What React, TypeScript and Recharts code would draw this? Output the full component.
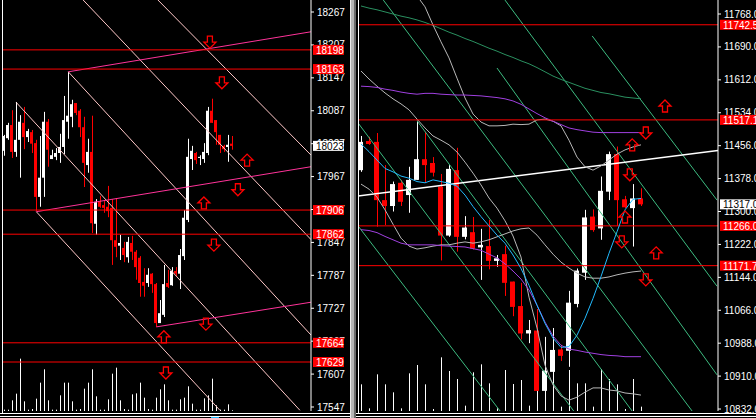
import React from "react";
import {
  ComposedChart,
  Bar,
  Line,
  XAxis,
  YAxis,
  ReferenceLine,
  ReferenceDot,
} from "recharts";

// ---------- left panel (index futures, 58 sessions) ----------
const leftOpen = [
  18014, 18037, 18061, 18012, 18034, 18065, 18039, 18048, 18028, 17930,
  17965, 18067, 17999, 18003, 18010, 18021, 18067, 18076, 18101, 18087,
  18057, 17988, 18012, 17881, 17921, 17915, 17912, 17910, 17851, 17841,
  17837, 17820, 17846, 17830, 17819, 17775, 17773, 17790, 17771, 17700,
  17715, 17773, 17769, 17795, 17790, 17822, 17888, 17999, 18010, 18001,
  17999, 18010, 18087, 18070, 18043, 18023, 18021, 18027,
];
const leftHigh = [
  18043, 18065, 18088, 18103, 18079, 18094, 18054, 18052, 18034, 18041,
  18085, 18072, 18016, 18019, 18045, 18114, 18158, 18107, 18101, 18090,
  18076, 18036, 18078, 17926, 17932, 17924, 17950, 17926, 17928, 17861,
  17848, 17857, 17859, 17833, 17822, 17800, 17800, 17791, 17773, 17742,
  17806, 17797, 17802, 17802, 17835, 17906, 18036, 18023, 18012, 18006,
  18028, 18094, 18109, 18070, 18043, 18025, 18043, 18041,
];
const leftLow = [
  18005, 18034, 18001, 18003, 17965, 18017, 18030, 18010, 17904, 17912,
  17930, 17985, 17999, 17997, 17992, 18008, 18036, 18057, 18079, 18039,
  17948, 17974, 17864, 17861, 17910, 17901, 17893, 17806, 17820, 17815,
  17811, 17810, 17815, 17779, 17748, 17748, 17766, 17755, 17693, 17700,
  17711, 17764, 17768, 17786, 17762, 17815, 17884, 17979, 17990, 17988,
  17992, 18006, 18065, 18025, 18010, 18012, 17994, 18016,
];
const leftClose = [
  18041, 18061, 18012, 18034, 18067, 18039, 18050, 18027, 17930, 17965,
  18067, 18016, 18006, 18010, 18021, 18070, 18078, 18099, 18083, 18057,
  17992, 18012, 17882, 17921, 17912, 17910, 17904, 17851, 17839, 17846,
  17824, 17848, 17830, 17802, 17773, 17768, 17788, 17771, 17700, 17718,
  17771, 17766, 17795, 17790, 17824, 17892, 18003, 18014, 17997, 18003,
  18012, 18087, 18065, 18048, 18025, 18017, 18025, 18023,
];
const leftVol = [
  40, 40, 320, 520, 1570, 290, 40, 60, 370, 850,
  1250, 320, 40, 40, 470, 850, 850, 290, 40, 60,
  670, 850, 1250, 440, 40, 40, 350, 1120, 1300, 320,
  60, 40, 500, 530, 850, 400, 60, 40, 400, 650,
  800, 320, 40, 40, 350, 400, 740, 220, 40, 40,
  380, 470, 970, 170, 40, 40, 200, 20,
];
const leftTicks = [
  17547, 17607, 17667, 17727, 17787, 17847, 17907, 17967, 18027, 18087,
  18147, 18207, 18267,
];
const leftLevels = [18198, 18163, 17906, 17862, 17664, 17629];
const leftLast = 18023;
// pale parallel lines and magenta channel lines: [x1, y1, x2, y2]
const leftParallels = [
  [3, 18102, 73.9, 17541],
  [16, 18158, 76.7, 17678],
  [19.7, 18289, 76.7, 17852],
  [38.4, 18289, 76.7, 18006],
  [8, 17903, 53.9, 17541],
];
const leftChannel = [
  [16, 18158, 76.7, 18231],
  [8, 17903, 76.7, 17985],
  [38, 17693, 76.7, 17738],
];
const leftArrows = [
  { x: 51.4, y: 18212, up: false },
  { x: 54.4, y: 18138, up: false },
  { x: 60.7, y: 17997, up: true },
  { x: 58.4, y: 17943, up: false },
  { x: 49.9, y: 17919, up: true },
  { x: 52.4, y: 17842, up: false },
  { x: 50.4, y: 17698, up: false },
  { x: 39.9, y: 17675, up: true },
  { x: 40.4, y: 17609, up: false },
];

// ---------- right panel (36 sessions) ----------
const rightOpen = [
  11398, 11467, 11465, 11327, 11313, 11368, 11339, 11375, 11424, 11415,
  11359, 11243, 11398, 11240, 11251, 11215, 11218, 11183, 11199, 11134,
  11076, 11011, 11018, 10875, 10920, 10973, 10970, 11081, 11155, 11288,
  11260, 11347, 11436, 11329, 11308, 11331,
];
const rightHigh = [
  11479, 11477, 11486, 11410, 11371, 11375, 11406, 11515, 11489, 11429,
  11389, 11410, 11451, 11289, 11287, 11259, 11280, 11197, 11219, 11134,
  11131, 11043, 11069, 11003, 11024, 10984, 11112, 11165, 11304, 11305,
  11383, 11442, 11454, 11337, 11365, 11355,
];
const rightLow = [
  11394, 11458, 11264, 11268, 11300, 11313, 11297, 11375, 11368, 11383,
  11184, 11240, 11205, 11234, 11210, 11138, 11163, 11169, 11100, 11052,
  10997, 10988, 10875, 10875, 10915, 10946, 10932, 11073, 11138, 11252,
  11233, 11327, 11266, 11308, 11217, 11313,
];
const rightClose = [
  11465, 11460, 11327, 11313, 11365, 11323, 11375, 11424, 11410, 11392,
  11243, 11401, 11240, 11262, 11212, 11221, 11183, 11189, 11131, 11074,
  11011, 11019, 10875, 10923, 10972, 10958, 11084, 11160, 11286, 11256,
  11349, 11436, 11327, 11310, 11331, 11317,
];
const rightVol = [
  800, 80, 1100, 800, 560, 80, 1130, 1380, 800, 60,
  1610, 1200, 960, 160, 1160, 1400, 830, 80, 1230, 810,
  930, 160, 1200, 1200, 1400, 130, 1230, 830, 830, 130,
  1260, 960, 800, 60, 960, 130,
];
const rightMa5 = [
  11460, 11442, 11422, 11402, 11394, 11384, 11379, 11371, 11368, 11375,
  11371, 11367, 11360, 11339, 11312, 11288, 11266, 11244, 11225, 11197,
  11165, 11125, 11078, 11035, 11000, 10978, 10980, 11007, 11047, 11094,
  11146, 11201, 11252, 11304, 11329, 11331,
];
const rightMa60 = [
  11787, 11782, 11778, 11773, 11768, 11763, 11759, 11754, 11748, 11741,
  11733, 11725, 11718, 11710, 11703, 11695, 11687, 11680, 11672, 11665,
  11657, 11650, 11641, 11631, 11621, 11613, 11606, 11599, 11592, 11587,
  11582, 11579, 11575, 11571, 11569, 11567,
];
const rightEnvUp = [
  11597, 11596, 11594, 11590, 11587, 11583, 11580, 11578, 11580, 11580,
  11578, 11577, 11576, 11576, 11575, 11574, 11572, 11570, 11567, 11562,
  11554, 11543, 11532, 11522, 11514, 11506, 11498, 11494, 11491, 11488,
  11487, 11487, 11487, 11487, 11487, 11487,
];
const rightEnvDn = [
  11257, 11255, 11250, 11241, 11233, 11225, 11221, 11221, 11221, 11221,
  11219, 11218, 11217, 11216, 11212, 11208, 11199, 11190, 11176, 11159,
  11140, 11114, 11078, 11038, 11005, 10983, 10974, 10971, 10967, 10964,
  10961, 10959, 10958, 10956, 10956, 10956,
];
const rightBandUp = [
  11990, 11965, 11940, 11915, 11890, 11868, 11837, 11811, 11785, 11742,
  11702, 11664, 11616, 11569, 11531, 11512, 11503, 11503, 11504, 11507,
  11506, 11507, 11517, 11519, 11514, 11503, 11469, 11429, 11406, 11398,
  11408, 11422, 11436, 11446, 11453, 11458,
];
const rightBandMid = [
  11365, 11353, 11334, 11304, 11270, 11237, 11218, 11211, 11214, 11218,
  11221, 11221, 11225, 11228, 11225, 11228, 11233, 11240, 11247, 11254,
  11259, 11261, 11244, 11221, 11199, 11180, 11166, 11154, 11145, 11142,
  11142, 11145, 11150, 11154, 11157, 11159,
];
const rightLagging = [
  11633, 11614, 11597, 11581, 11567, 11555, 11541, 11519, 11498, 11479,
  11469, 11458, 11441, 11417, 11391, 11363, 11332, 11308, 11278, 11242,
  11192, 11097, 11024, 10936, 10889, 10863, 10853, 10860, 10872, 10882,
  10882, 10877, 10875, 10870, 10868, 10865,
];
const rightTicks = [
  10832, 10910, 10988, 11066, 11144, 11222, 11300, 11378, 11456, 11534,
  11612, 11690, 11768,
];
const rightLevels = [11742.5, 11517.1, 11266.0, 11171.7];
const rightLast = 11317.0;
const rightTrend = [-0.375, 11336.7, 44.625, 11444.6];
const rightFan = [
  [2.79, 11801, 41.4, 10827],
  [18, 11801, 44.5, 11123],
  [17, 11640, 44.5, 10913],
  [28.9, 11716, 44.5, 11327],
  [-0.375, 11510, 26.6, 10827],
  [-0.375, 11266, 17.4, 10827],
  [7, 11515, 33.9, 10827],
];
const rightArrows = [
  { x: 38, y: 11550, up: true },
  { x: 35.6, y: 11486, up: false },
  { x: 33.9, y: 11458, up: true },
  { x: 33.6, y: 11387, up: false },
  { x: 33, y: 11287, up: true },
  { x: 32.6, y: 11228, up: false },
  { x: 36.9, y: 11202, up: true },
  { x: 35.6, y: 11138, up: false },
];

const leftRows = leftOpen.map((o, i) => ({
  i,
  o,
  h: leftHigh[i],
  l: leftLow[i],
  c: leftClose[i],
  v: leftVol[i],
  range: [leftLow[i], leftHigh[i]],
}));

const rightRows = rightOpen.map((o, i) => ({
  i,
  o,
  h: rightHigh[i],
  l: rightLow[i],
  c: rightClose[i],
  v: rightVol[i],
  range: [rightLow[i], rightHigh[i]],
  ma5: rightMa5[i],
  ma60: rightMa60[i],
  envUp: rightEnvUp[i],
  envDn: rightEnvDn[i],
  bandUp: rightBandUp[i],
  bandMid: rightBandMid[i],
  lag: rightLagging[i],
}));

const FONT = "'Liberation Sans', Arial, sans-serif";
const H = 418;
const MARGIN_BOTTOM = 7;
const VOL_MAX = 12330;

// candle drawn from the [low, high] bar the library positions for us
const Candle = (props: any) => {
  const { x, y, width, height, payload } = props;
  if (payload == null) return null;
  const top0 = Math.min(y, y + height);
  const span = Math.abs(height);
  const k = span / (payload.h - payload.l || 1);
  const bodyTop = top0 + (payload.h - Math.max(payload.o, payload.c)) * k;
  const bodyBot = top0 + (payload.h - Math.min(payload.o, payload.c)) * k;
  const color = payload.c >= payload.o ? "#ffffff" : "#ff0000";
  const cx = Math.round(x + width / 2) + 0.5;
  const left = Math.round(x + width / 2 - width / 2);
  return (
    <g>
      <line x1={cx} x2={cx} y1={top0} y2={top0 + span} stroke={color} strokeWidth={1} />
      <rect
        x={left}
        y={bodyTop}
        width={width}
        height={Math.max(1, bodyBot - bodyTop)}
        fill={color}
      />
    </g>
  );
};

const VolBar = (props: any) => {
  const { x, y, width, height } = props;
  const cx = Math.round(x + width / 2) + 0.5;
  const top0 = Math.min(y, y + height);
  return (
    <line x1={cx} x2={cx} y1={top0} y2={top0 + Math.abs(height)} stroke="#ffffff" strokeWidth={1} />
  );
};

const Arrow = ({ cx, cy, up }: { cx: number; cy: number; up: boolean }) => {
  const s = up ? 1 : -1;
  const pts = [
    [0, -6],
    [6, 0],
    [2.5, 0],
    [2.5, 6],
    [-2.5, 6],
    [-2.5, 0],
    [-6, 0],
  ]
    .map(([dx, dy]) => `${cx + dx},${cy + s * dy}`)
    .join(" ");
  return <polygon points={pts} fill="none" stroke="#ff0000" strokeWidth={1.3} />;
};

const priceTag = (text: string, bg: string, fg: string, w: number) => (p: any) => {
  const vb = p.viewBox || {};
  const x = (vb.x ?? 0) + (vb.width ?? 0) + 2;
  const y = vb.y ?? 0;
  return (
    <g>
      <rect x={x} y={y - 5} width={w} height={10} fill={bg} />
      <text x={x + 3} y={y + 4} fill={fg} fontSize={10} fontFamily={FONT}>
        {text}
      </text>
    </g>
  );
};

const axisTick = { fill: "#ffffff", fontSize: 10, fontFamily: FONT };

// third layer on top of each panel: only the price tags, so they cover the tick labels
function TagLayer(props: {
  w: number;
  axisW: number;
  left: number;
  domX: [number, number];
  domY: [number, number];
  rows: any[];
  levels: number[];
  last: number;
  fmt: (v: number) => string;
  tagW: number;
}) {
  const { w, axisW, left, domX, domY, rows, levels, last, fmt, tagW } = props;
  return (
    <div style={{ position: "absolute", left: 0, top: 0 }}>
      <ComposedChart
        width={w}
        height={H}
        data={rows}
        margin={{ top: 0, right: axisW, bottom: MARGIN_BOTTOM, left }}
      >
        <XAxis type="number" dataKey="i" domain={domX} allowDataOverflow hide />
        <YAxis yAxisId="p" domain={domY} allowDataOverflow hide />
        {levels.map((v) => (
          <ReferenceLine
            key={`tag-${v}`}
            yAxisId="p"
            y={v}
            stroke="none"
            label={priceTag(fmt(v), "#ff0000", "#ffffff", tagW)}
          />
        ))}
        <ReferenceLine
          yAxisId="p"
          y={last}
          stroke="none"
          label={priceTag(fmt(last), "#ffffff", "#000000", tagW)}
        />
      </ComposedChart>
    </div>
  );
}

function LeftPanel() {
  const w = 352;
  const axisW = 41;
  const domX: [number, number] = [-0.325, 76.675];
  const domY: [number, number] = [17539.7, 18288.9];
  return (
    <div style={{ position: "absolute", left: 0, top: 0, width: w, height: H }}>
      <div style={{ position: "absolute", left: 0, top: 0 }}>
        <ComposedChart
          width={w}
          height={H}
          data={leftRows}
          margin={{ top: 0, right: axisW, bottom: MARGIN_BOTTOM, left: 3 }}
        >
          <XAxis type="number" dataKey="i" domain={domX} allowDataOverflow hide />
          <YAxis yAxisId="v" domain={[0, VOL_MAX]} allowDataOverflow hide />
          <Bar yAxisId="v" dataKey="v" barSize={1} shape={VolBar} isAnimationActive={false} />
        </ComposedChart>
      </div>
      <div style={{ position: "absolute", left: 0, top: 0 }}>
        <ComposedChart
          width={w}
          height={H}
          data={leftRows}
          margin={{ top: 0, right: 0, bottom: MARGIN_BOTTOM, left: 3 }}
        >
          <XAxis type="number" dataKey="i" domain={domX} allowDataOverflow hide />
          <YAxis
            yAxisId="p"
            orientation="right"
            width={axisW}
            domain={domY}
            allowDataOverflow
            ticks={leftTicks}
            interval={0}
            tick={axisTick}
            tickSize={3}
            tickMargin={3}
            tickLine={{ stroke: "#ffffff" }}
            axisLine={{ stroke: "#ffffff" }}
          />
          {leftParallels.map(([x1, y1, x2, y2], k) => (
            <ReferenceLine
              key={`par-${k}`}
              yAxisId="p"
              segment={[{ x: x1, y: y1 }, { x: x2, y: y2 }]}
              stroke="#ffc8c8"
              strokeWidth={1}
              ifOverflow="hidden"
            />
          ))}
          {leftChannel.map(([x1, y1, x2, y2], k) => (
            <ReferenceLine
              key={`ch-${k}`}
              yAxisId="p"
              segment={[{ x: x1, y: y1 }, { x: x2, y: y2 }]}
              stroke="#ff3399"
              strokeWidth={1}
              ifOverflow="hidden"
            />
          ))}
          {leftLevels.map((v) => (
            <ReferenceLine key={`lv-${v}`} yAxisId="p" y={v} stroke="#ff0000" strokeWidth={1} />
          ))}
          <Bar
            yAxisId="p"
            dataKey="range"
            barSize={3}
            shape={Candle}
            isAnimationActive={false}
          />
          {leftArrows.map((a, k) => (
            <ReferenceDot
              key={`la-${k}`}
              yAxisId="p"
              x={a.x}
              y={a.y}
              r={6}
              shape={(p: any) => <Arrow cx={p.cx} cy={p.cy} up={a.up} />}
            />
          ))}
        </ComposedChart>
      </div>
      <TagLayer
        w={w}
        axisW={axisW}
        left={3}
        domX={domX}
        domY={domY}
        rows={leftRows}
        levels={leftLevels}
        last={leftLast}
        fmt={(v) => String(v)}
        tagW={31}
      />
    </div>
  );
}

function RightPanel() {
  const w = 400;
  const axisW = 38;
  const domX: [number, number] = [-0.375, 44.625];
  const domY: [number, number] = [10827.3, 11801.2];
  const line = (key: string, color: string) => (
    <Line
      yAxisId="p"
      dataKey={key}
      stroke={color}
      strokeWidth={1}
      dot={false}
      activeDot={false}
      isAnimationActive={false}
    />
  );
  return (
    <div style={{ position: "absolute", left: 356, top: 0, width: w, height: H }}>
      <div style={{ position: "absolute", left: 0, top: 0 }}>
        <ComposedChart
          width={w}
          height={H}
          data={rightRows}
          margin={{ top: 0, right: axisW, bottom: MARGIN_BOTTOM, left: 2 }}
        >
          <XAxis type="number" dataKey="i" domain={domX} allowDataOverflow hide />
          <YAxis yAxisId="v" domain={[0, VOL_MAX]} allowDataOverflow hide />
          <Bar yAxisId="v" dataKey="v" barSize={1} shape={VolBar} isAnimationActive={false} />
        </ComposedChart>
      </div>
      <div style={{ position: "absolute", left: 0, top: 0 }}>
        <ComposedChart
          width={w}
          height={H}
          data={rightRows}
          margin={{ top: 0, right: 0, bottom: MARGIN_BOTTOM, left: 2 }}
        >
          <XAxis type="number" dataKey="i" domain={domX} allowDataOverflow hide />
          <YAxis
            yAxisId="p"
            orientation="right"
            width={axisW}
            domain={domY}
            allowDataOverflow
            ticks={rightTicks}
            interval={0}
            tick={axisTick}
            tickSize={3}
            tickMargin={3}
            tickLine={{ stroke: "#ffffff" }}
            axisLine={{ stroke: "#ffffff" }}
            tickFormatter={(v: number) => v.toFixed(1)}
          />
          {rightFan.map(([x1, y1, x2, y2], k) => (
            <ReferenceLine
              key={`fan-${k}`}
              yAxisId="p"
              segment={[{ x: x1, y: y1 }, { x: x2, y: y2 }]}
              stroke="#3dbb80"
              strokeWidth={1}
              ifOverflow="hidden"
            />
          ))}
          <ReferenceLine
            yAxisId="p"
            segment={[
              { x: rightTrend[0], y: rightTrend[1] },
              { x: rightTrend[2], y: rightTrend[3] },
            ]}
            stroke="#ffffff"
            strokeWidth={1.5}
            ifOverflow="hidden"
          />
          {line("ma60", "#2a9060")}
          {line("bandUp", "#b8b8b8")}
          {line("bandMid", "#b8b8b8")}
          {line("lag", "#b8b8b8")}
          {line("envUp", "#a040e0")}
          {line("envDn", "#a040e0")}
          {rightLevels.map((v) => (
            <ReferenceLine key={`rv-${v}`} yAxisId="p" y={v} stroke="#ff0000" strokeWidth={1} />
          ))}
          <Bar
            yAxisId="p"
            dataKey="range"
            barSize={5}
            shape={Candle}
            isAnimationActive={false}
          />
          {line("ma5", "#22bbff")}
          {rightArrows.map((a, k) => (
            <ReferenceDot
              key={`ra-${k}`}
              yAxisId="p"
              x={a.x}
              y={a.y}
              r={6}
              shape={(p: any) => <Arrow cx={p.cx} cy={p.cy} up={a.up} />}
            />
          ))}
        </ComposedChart>
      </div>
      <TagLayer
        w={w}
        axisW={axisW}
        left={2}
        domX={domX}
        domY={domY}
        rows={rightRows}
        levels={rightLevels}
        last={rightLast}
        fmt={(v) => v.toFixed(1)}
        tagW={40}
      />
    </div>
  );
}

export default function App() {
  const bar = (style: React.CSSProperties) => (
    <div style={{ position: "absolute", ...style }} />
  );
  return (
    <div
      style={{
        position: "fixed",
        left: 0,
        top: 0,
        width: 756,
        height: H,
        background: "#000000",
        overflow: "hidden",
      }}
    >
      <LeftPanel />
      <RightPanel />
      {/* frame: panel borders, splitter and bottom scroll strip */}
      {bar({ left: 2, top: 0, width: 1, height: 413, background: "#ffffff" })}
      {bar({ left: 358, top: 0, width: 1, height: 413, background: "#ffffff" })}
      {bar({ left: 350, top: 0, width: 1, height: H, background: "#e8e8e8" })}
      {bar({ left: 351, top: 0, width: 3, height: H, background: "#b4b4b4" })}
      {bar({ left: 354, top: 0, width: 2, height: H, background: "#6a6a6a" })}
      {bar({ left: 0, top: 413, width: 350, height: 1, background: "#ffffff" })}
      {bar({ left: 356, top: 413, width: 400, height: 1, background: "#ffffff" })}
      {bar({ left: 0, top: 416, width: 350, height: 1, background: "#ffffff" })}
      {bar({ left: 356, top: 416, width: 400, height: 1, background: "#ffffff" })}
      {bar({ left: 211, top: 417, width: 8, height: 1, background: "#22bbff" })}
    </div>
  );
}
